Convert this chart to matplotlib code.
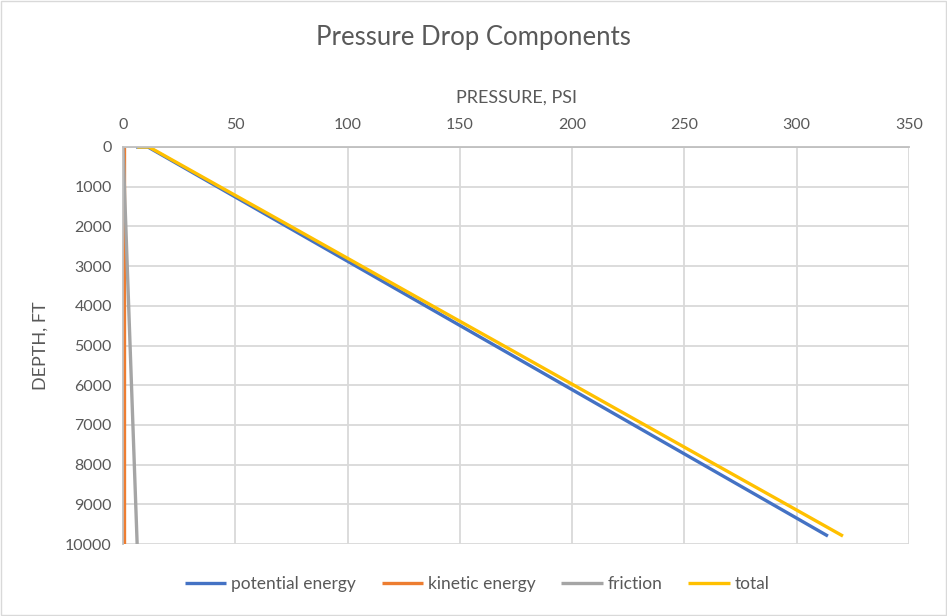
# Pressure drop components vs depth

import matplotlib.pyplot as plt

plt.rcParams['font.family'] = ['Lato', 'DejaVu Sans']

# Data (depth in ft, pressure in psi)
depth = [0, 0, 1000, 2000, 3000, 4000, 5000, 6000, 7000, 8000, 9000, 9800]
potential = [5.8, 11.1, 42.0, 72.9, 103.8, 134.7, 165.6, 196.5, 227.4, 258.3, 289.2, 313.9]
total = [6.3, 11.6, 43.1, 74.7, 106.2, 137.7, 169.3, 200.8, 232.3, 263.8, 295.4, 320.6]

depth_ke = [0, 10000]
kinetic = [0.5, 0.5]
friction = [0.0, 6.3]

x_ticks = [0, 50, 100, 150, 200, 250, 300, 350]
y_ticks = [0, 1000, 2000, 3000, 4000, 5000, 6000, 7000, 8000, 9000, 10000]

colors = ['#4472C4', '#ED7D31', '#A5A5A5', '#FFC000']
text_color = '#595959'

fig = plt.figure(figsize=(9.47, 6.16), dpi=100)
ax = fig.add_axes([123 / 947, 1 - 544 / 616, 786 / 947, 397 / 616])

ax.plot(potential, depth, color=colors[0], lw=2.4, label='potential energy', solid_capstyle='butt')
ax.plot(kinetic, depth_ke, color=colors[1], lw=2.4, label='kinetic energy', solid_capstyle='butt')
ax.plot(friction, depth_ke, color=colors[2], lw=2.4, label='friction', solid_capstyle='butt')
ax.plot(total, depth, color=colors[3], lw=2.4, label='total', solid_capstyle='butt')

ax.set_xlim(0, 350)
ax.set_ylim(10000, 0)
ax.set_xticks(x_ticks)
ax.set_yticks(y_ticks)
ax.xaxis.tick_top()
ax.xaxis.set_label_position('top')
ax.tick_params(length=0, labelsize=11.5, colors=text_color)
ax.tick_params(axis='x', pad=11)
ax.tick_params(axis='y', pad=8)
ax.grid(True, color='#D9D9D9', lw=1.3)
ax.set_axisbelow(True)
for s in ['right', 'bottom']:
    ax.spines[s].set_visible(False)
for s in ['left', 'top']:
    ax.spines[s].set_color('#BFBFBF')
    ax.spines[s].set_linewidth(1.3)

ax.set_xlabel('PRESSURE, PSI', fontsize=13, color=text_color, labelpad=11)
ax.set_ylabel('DEPTH, FT', fontsize=13, color=text_color, labelpad=12)
fig.text(0.5, 1 - 37 / 616, 'Pressure Drop Components', ha='center', va='center',
         fontsize=18.5, color=text_color)

fig.legend(loc='center', bbox_to_anchor=(477 / 947, 1 - 584 / 616), ncol=4, frameon=False,
           fontsize=12.5, labelcolor=text_color, handlelength=2.4, handletextpad=0.25,
           columnspacing=1.5)

# light border around the whole chart
fig.patches.append(plt.Rectangle((0.001, 0.001), 0.998, 0.998, transform=fig.transFigure,
                                 fill=False, edgecolor='#D9D9D9', lw=1))

fig.savefig('out.png', dpi=100)
